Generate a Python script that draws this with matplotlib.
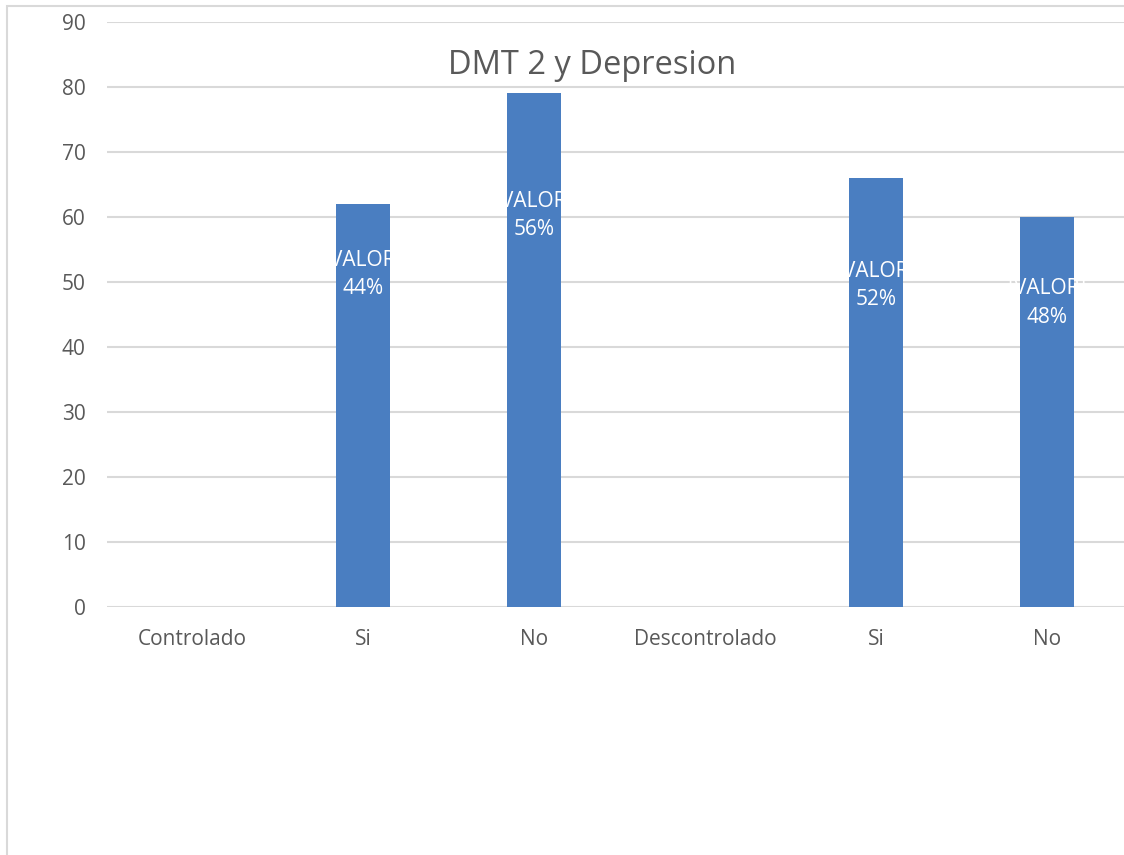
import matplotlib
matplotlib.use("Agg")
import matplotlib.pyplot as plt
from matplotlib.patches import Rectangle

categories = ["Controlado", "Si", "No", "Descontrolado", "Si", "No"]
bar_positions = [1, 2, 4, 5]
bar_values = [62, 79, 66, 60]
label_y = [51.2, 60.3, 49.5, 46.8]
group_pairs = [(0, 1), (2, 3)]

title = "DMT 2 y Depresion"
yticks = list(range(0, 100, 10))

# percentages within each group
percents = [None] * len(bar_values)
for a, b in group_pairs:
    tot = bar_values[a] + bar_values[b]
    percents[a] = round(100 * bar_values[a] / tot)
    percents[b] = round(100 * bar_values[b] / tot)

plt.rcParams['font.family'] = ['Open Sans', 'DejaVu Sans']
W, H = 1124, 855
fig = plt.figure(figsize=(W / 100, H / 100), dpi=100)

left = 106.5 / W
width = 1026 / W
bottom = (H - 607) / H
height = 585 / H
ax = fig.add_axes([left, bottom, width, height])

bar_color = "#4A7EC1"
ax.bar(bar_positions, bar_values, width=0.316, color=bar_color, zorder=2)

ax.set_xlim(-0.5, len(categories) - 0.5)
ax.set_ylim(0, 90)
ax.set_yticks(yticks)
ax.set_xticks(range(len(categories)))
ax.set_xticklabels(categories)
ax.tick_params(axis='both', length=0, labelsize=15, labelcolor="#595959")
ax.tick_params(axis='y', pad=15)
ax.tick_params(axis='x', pad=16)
ax.grid(axis='y', color="#D9D9D9", linewidth=1.5, zorder=0)
ax.set_axisbelow(True)
for s in ax.spines.values():
    s.set_visible(False)

for x, v, ly, p in zip(bar_positions, bar_values, label_y, percents):
    ax.text(x, ly, f"[VALOR]\n{p}%", ha="center", va="center", color="white",
            fontsize=15, linespacing=1.5, zorder=3)

fig.text(592 / W, 1 - 65 / H, title, ha="center", va="center",
         fontsize=23.5, color="#595959")

fig.patches.append(Rectangle((7 / W, -0.1), 1.2, 1 - 6 / H + 0.1,
                             transform=fig.transFigure, fill=False,
                             edgecolor="#D9D9D9", linewidth=1.5))

fig.savefig("out.png", dpi=100)
